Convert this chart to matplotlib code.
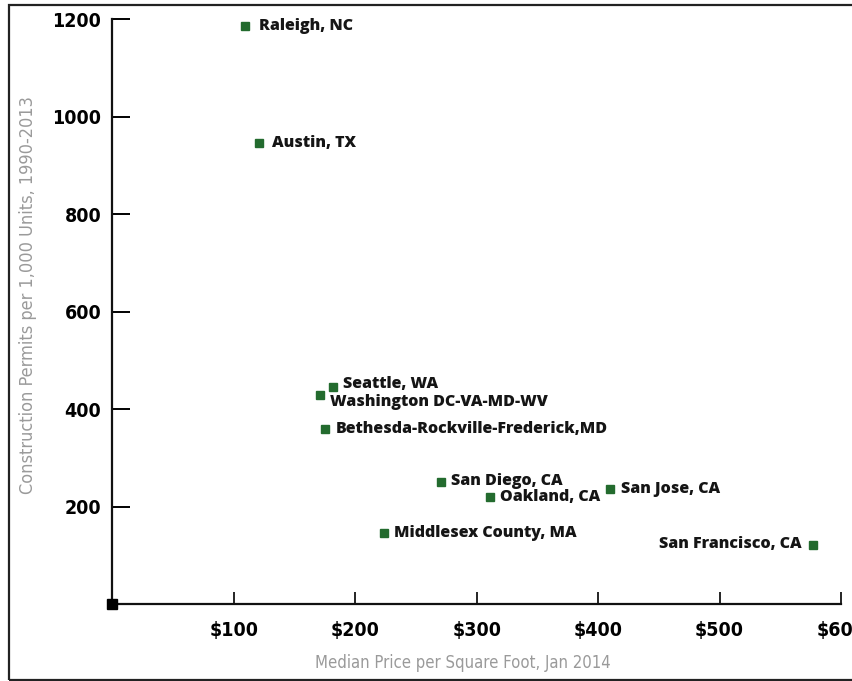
import matplotlib
matplotlib.use("Agg")
import matplotlib.pyplot as plt
from matplotlib import font_manager
from matplotlib.font_manager import FontProperties
from matplotlib.patches import Rectangle

# data
metros = ["Raleigh, NC", "Austin, TX", "Seattle, WA", "Washington DC-VA-MD-WV",
          "Bethesda-Rockville-Frederick,MD", "San Diego, CA", "Oakland, CA",
          "San Jose, CA", "Middlesex County, MA", "San Francisco, CA"]
price_sqft = [109, 121, 182, 171, 175, 271, 311, 410, 224, 577]
permits = [1186, 946, 445, 429, 359, 250, 219, 236, 146, 121]

x_ticks = [100, 200, 300, 400, 500, 600]
x_tick_labels = ["$100", "$200", "$300", "$400", "$500", "$600"]
y_ticks = [200, 400, 600, 800, 1000, 1200]

# label offsets in points (dx, dy, ha)
offsets = {
    "Raleigh, NC": (10, 0, "left"),
    "Austin, TX": (9, 0, "left"),
    "Seattle, WA": (7, 2, "left"),
    "Washington DC-VA-MD-WV": (7, -5, "left"),
    "Bethesda-Rockville-Frederick,MD": (8, 0, "left"),
    "San Diego, CA": (7, 1, "left"),
    "Oakland, CA": (7, 0, "left"),
    "San Jose, CA": (8, 0, "left"),
    "Middlesex County, MA": (7, 0, "left"),
    "San Francisco, CA": (-8, 1, "right"),
}

# look for a condensed face; fall back to plain sans
narrow_path = font_manager.findfont(FontProperties(family="DejaVu Sans", stretch="condensed"))
has_condensed = "Condensed" in narrow_path
stretch = "condensed" if has_condensed else "normal"
tick_size = 14 if has_condensed else 13

fig = plt.figure(figsize=(8.52, 6.81), dpi=100)
ax = fig.add_axes([0.132, 0.113, 0.855, 0.859])

ax.plot(price_sqft, permits, "s", color="#236b2e", markersize=5.5, zorder=3)
ax.plot([0], [0], "s", color="black", markersize=7, clip_on=False, zorder=4)

for name, x, y in zip(metros, price_sqft, permits):
    dx, dy, ha = offsets[name]
    ax.annotate(name, (x, y), xytext=(dx, dy), textcoords="offset points",
                ha=ha, va="center", fontsize=11.5, fontweight="heavy",
                family="Open Sans", color="#151515")

ax.set_xlim(0, 600)
ax.set_ylim(0, 1200)
ax.set_xticks(x_ticks)
ax.set_xticklabels(x_tick_labels)
ax.set_yticks(y_ticks)

for s in ["top", "right"]:
    ax.spines[s].set_visible(False)
for s in ["left", "bottom"]:
    ax.spines[s].set_linewidth(1.6)
    ax.spines[s].set_color("#111111")

ax.tick_params(axis="y", direction="in", length=13, width=1.4, pad=8)
ax.tick_params(axis="x", direction="in", length=9, width=1.2, pad=12)
for lab in ax.get_xticklabels() + ax.get_yticklabels():
    lab.set_family("DejaVu Sans")
    lab.set_stretch(stretch)
    lab.set_fontweight("bold")
    lab.set_fontsize(tick_size)
    lab.set_color("black")

fig.text(0.543, 0.026, "Median Price per Square Foot, Jan 2014", ha="center",
         va="center", family="DejaVu Sans", stretch=stretch, fontsize=12,
         color="#9a9a9a")
fig.text(0.033, 0.567, "Construction Permits per 1,000 Units, 1990-2013",
         rotation=90, ha="center", va="center", family="DejaVu Sans", stretch=stretch,
         fontsize=13, color="#9a9a9a")

# outer frame (right side is cut off in the original)
fig.patches.append(Rectangle((0.011, 0.002), 1.05, 0.991, transform=fig.transFigure,
                             fill=False, edgecolor="#222222", linewidth=1.6))

fig.savefig("out.png", dpi=100)
